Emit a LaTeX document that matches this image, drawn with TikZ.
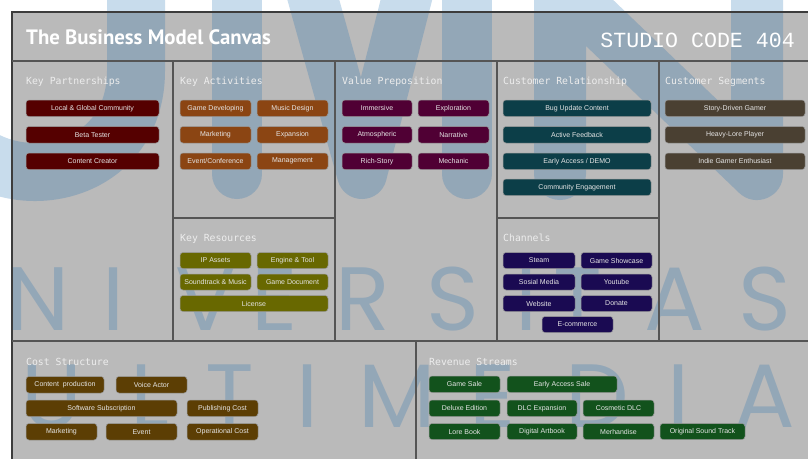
\documentclass[tikz,border=0pt]{standalone}
\usepackage{fontspec}
\setmainfont{Liberation Sans}
\newfontfamily\titlefont{PT Sans}
\newfontfamily\headfont{DejaVu Sans Mono}
\newfontfamily\studiofont{Liberation Mono}
\newfontfamily\wmfont{Poppins}
\definecolor{bg}{RGB}{186,186,186}
\definecolor{frameline}{RGB}{60,60,60}
\definecolor{innerline}{RGB}{85,85,85}
\definecolor{wm}{RGB}{20,104,174}
\definecolor{kp}{RGB}{85,0,0}
\definecolor{ka}{RGB}{139,69,19}
\definecolor{vp}{RGB}{80,0,52}
\definecolor{cr}{RGB}{12,62,72}
\definecolor{cs}{RGB}{74,64,50}
\definecolor{kr}{RGB}{104,104,0}
\definecolor{ch}{RGB}{26,10,82}
\definecolor{cost}{RGB}{92,62,4}
\definecolor{rev}{RGB}{18,82,28}
\tikzset{
  bmcbox/.style={rounded corners=3pt, draw=black!40, line width=0.5pt, inner sep=0pt,
    text=white!90!black, font=\fontsize{7}{8}\selectfont},
  heading/.style={anchor=base west, inner sep=0pt, text=white!93!black,
    font=\headfont\fontsize{9.8}{10}\selectfont},
  wmstroke/.style={draw=wm, draw opacity=0.23, line cap=round, line join=round},
  wmletter/.style={anchor=base, inner sep=0pt, text=wm, text opacity=0.23,
    font=\wmfont\fontsize{90}{90}\selectfont},
  panel/.style={draw=innerline, line width=1.1pt}
}
\newcommand{\bx}[7]{\node[bmcbox, fill=#2, minimum width={(#5-#3)*1pt}, minimum height={(#6-#4)*1pt}] (#1) at ({(#3+#5)/2},{(#4+#6)/2}) {#7};}
\begin{document}
\begin{tikzpicture}[x=1pt,y=-1pt]
\useasboundingbox (0,0) rectangle (808,458);
\clip (0,0) rectangle (808,458);
% background
\fill[white] (0,0) rectangle (808,458);
\fill[bg] (12,12) rectangle (820,470);
% watermark
\draw[wmstroke, line width=58pt] (-66,-250) -- (-66,71) .. controls (-66,205.7) and (136,205.7) .. (136,71) -- (136,-250);
\draw[wmstroke, line width=50pt] (237,174) -- (237,-207);
\draw[wmstroke, line width=50pt] (305,-30) -- (362,174) -- (414,-30);
\draw[wmstroke, line width=50pt] (467,174) -- (467,-232);
\draw[wmstroke, line width=52pt] (560,174) -- (560,-15) -- (757,174) -- (757,-250);
\foreach \ch/\xx in {N/38, I/114, V/206, E/275, R/363, S/453, I/527, T/578, A/675, S/765}
  \node[wmletter] at (\xx,330) {\ch};
\foreach \ch/\xx in {U/52, L/150, T/230, I/308, M/397, E/493, D/597, I/679, A/765}
  \node[wmletter] at (\xx,427) {\ch};
% frame lines
\draw[frameline, line width=1.2pt] (12,470) -- (12,12) -- (820,12);
\draw[panel] (12,61) -- (820,61);
\foreach \xx in {173,335,497,659} \draw[panel] (\xx,61) -- (\xx,341);
\draw[panel] (173,218) -- (335,218);
\draw[panel] (497,218) -- (659,218);
\draw[panel] (12,341) -- (820,341);
\draw[panel] (416,341) -- (416,470);
% title
\node[anchor=base west, inner sep=0pt, text=white, font=\titlefont\bfseries\fontsize{20.8}{22}\selectfont] (title) at (26,44) {The Business Model Canvas};
\node[anchor=base east, inner sep=0pt, text=white, font=\studiofont\fontsize{21.6}{22}\selectfont] (studio) at (795,47) {STUDIO CODE 404};
% headings
\node[heading] (hkp) at (26,84) {Key Partnerships};
\node[heading] (hka) at (180,84) {Key Activities};
\node[heading] (hvp) at (342,84) {Value Preposition};
\node[heading] (hcr) at (503,84) {Customer Relationship};
\node[heading] (hcs) at (665,84) {Customer Segments};
\node[heading] (hkr) at (180,241) {Key Resources};
\node[heading] (hch) at (503,241) {Channels};
\node[heading] (hcost) at (26,365) {Cost Structure};
\node[heading] (hrev) at (429,365) {Revenue Streams};
% key partnerships
\bx{kp1}{kp}{26}{100}{159}{116.5}{Local \& Global Community}
\bx{kp2}{kp}{26}{126.5}{159}{143}{Beta Tester}
\bx{kp3}{kp}{26}{153}{159}{169.5}{Content Creator}
% key activities
\bx{ka1}{ka}{180}{100}{251}{116.5}{Game Developing}
\bx{ka2}{ka}{257}{100}{328}{116.5}{Music Design}
\bx{ka3}{ka}{180}{126.5}{251}{143}{Marketing}
\bx{ka4}{ka}{257}{126.5}{328}{143}{Expansion}
\bx{ka5}{ka}{180}{153}{251}{169.5}{Event/Conference}
\bx{ka6}{ka}{257}{153}{328}{169.5}{Management}
% value proposition
\bx{vp1}{vp}{342}{100}{412}{116.5}{Immersive}
\bx{vp2}{vp}{418}{100}{489}{116.5}{Exploration}
\bx{vp3}{vp}{342}{126.5}{412}{143}{Atmospheric}
\bx{vp4}{vp}{418}{126.5}{489}{143}{Narrative}
\bx{vp5}{vp}{342}{153}{412}{169.5}{Rich-Story}
\bx{vp6}{vp}{418}{153}{489}{169.5}{Mechanic}
% customer relationship
\bx{cr1}{cr}{503}{100}{651}{116.5}{Bug Update Content}
\bx{cr2}{cr}{503}{126.5}{651}{143}{Active Feedback}
\bx{cr3}{cr}{503}{153}{651}{169.5}{Early Access / DEMO}
\bx{cr4}{cr}{503}{179}{651}{195.5}{Community Engagement}
% customer segments
\bx{cs1}{cs}{665}{100}{805}{116.5}{Story-Driven Gamer}
\bx{cs2}{cs}{665}{126.5}{805}{143}{Heavy-Lore Player}
\bx{cs3}{cs}{665}{153}{805}{169.5}{Indie Gamer Enthusiast}
% key resources
\bx{kr1}{kr}{180}{252.5}{251}{268.5}{IP Assets}
\bx{kr2}{kr}{257}{252.5}{328}{268.5}{Engine \& Tool}
\bx{kr3}{kr}{180}{274}{251}{290}{Soundtrack \& Music}
\bx{kr4}{kr}{257}{274}{328}{290}{Game Document}
\bx{kr5}{kr}{180}{295.5}{328}{311.5}{License}
% channels
\bx{ch1}{ch}{503}{252.5}{575}{268.5}{Steam}
\bx{ch2}{ch}{581}{252.5}{652}{268.5}{Game Showcase}
\bx{ch3}{ch}{503}{274}{575}{290}{Sosial Media}
\bx{ch4}{ch}{581}{274}{652}{290}{Youtube}
\bx{ch5}{ch}{503}{295.5}{575}{311.5}{Website}
\bx{ch6}{ch}{581}{295.5}{652}{311.5}{Donate}
\bx{ch7}{ch}{542}{316.5}{613}{332.5}{E-commerce}
% cost structure
\bx{co1}{cost}{26}{376.5}{104}{393}{Content\ \ production}
\bx{co2}{cost}{116}{376.5}{187}{393}{Voice Actor}
\bx{co3}{cost}{26}{400}{177}{416.5}{Software Subscription}
\bx{co4}{cost}{187}{400}{258}{416.5}{Publishing Cost}
\bx{co5}{cost}{26}{423.5}{97}{440}{Marketing}
\bx{co6}{cost}{106}{423.5}{177}{440}{Event}
\bx{co7}{cost}{187}{423.5}{258}{440}{Operational Cost}
% revenue streams
\bx{rv1}{rev}{429}{376}{500}{392.5}{Game Sale}
\bx{rv2}{rev}{507}{376}{617}{392.5}{Early Access Sale}
\bx{rv3}{rev}{429}{400}{500}{416.5}{Deluxe Edition}
\bx{rv4}{rev}{507}{400}{577}{416.5}{DLC Expansion}
\bx{rv5}{rev}{583}{400}{654}{416.5}{Cosmetic DLC}
\bx{rv6}{rev}{429}{423.5}{500}{439.5}{Lore Book}
\bx{rv7}{rev}{507}{423.5}{577}{439.5}{Digital Artbook}
\bx{rv8}{rev}{583}{423.5}{654}{439.5}{Merhandise}
\bx{rv9}{rev}{660}{423.5}{745}{439.5}{Original Sound Track}
\end{tikzpicture}
\end{document}
